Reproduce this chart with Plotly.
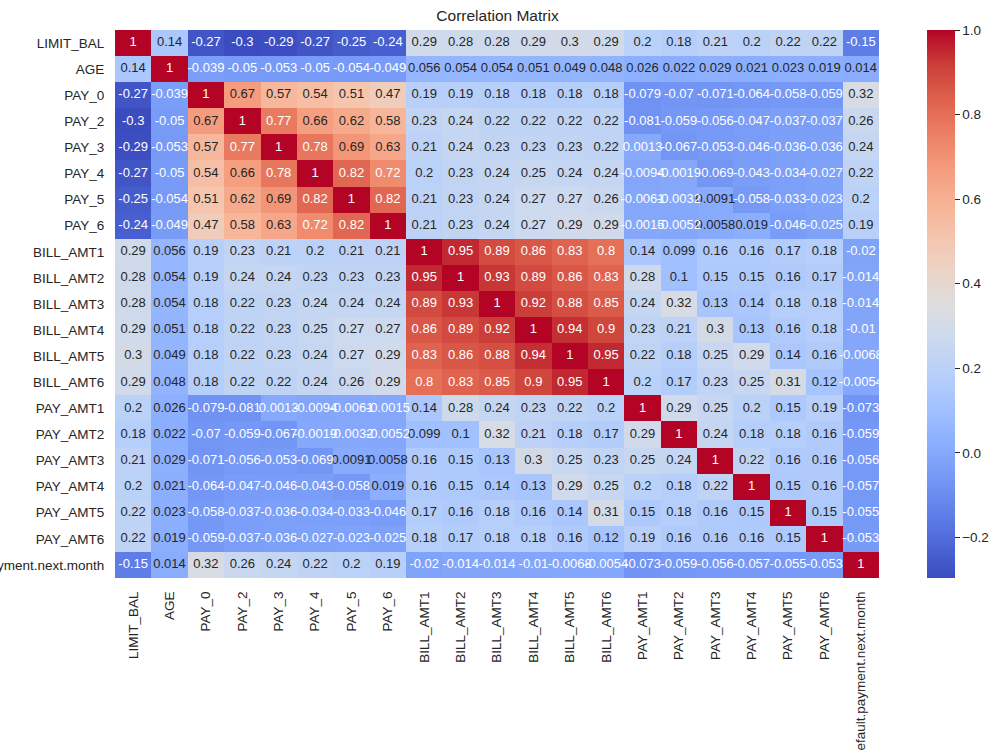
import plotly.graph_objects as go

labels = ["LIMIT_BAL", "AGE", "PAY_0", "PAY_2", "PAY_3", "PAY_4", "PAY_5", "PAY_6",
          "BILL_AMT1", "BILL_AMT2", "BILL_AMT3", "BILL_AMT4", "BILL_AMT5", "BILL_AMT6",
          "PAY_AMT1", "PAY_AMT2", "PAY_AMT3", "PAY_AMT4", "PAY_AMT5", "PAY_AMT6",
          "default.payment.next.month"]

corr = [
    [1, 0.14, -0.27, -0.3, -0.29, -0.27, -0.25, -0.24, 0.29, 0.28, 0.28, 0.29, 0.3, 0.29, 0.2, 0.18, 0.21, 0.2, 0.22, 0.22, -0.15],
    [0.14, 1, -0.039, -0.05, -0.053, -0.05, -0.054, -0.049, 0.056, 0.054, 0.054, 0.051, 0.049, 0.048, 0.026, 0.022, 0.029, 0.021, 0.023, 0.019, 0.014],
    [-0.27, -0.039, 1, 0.67, 0.57, 0.54, 0.51, 0.47, 0.19, 0.19, 0.18, 0.18, 0.18, 0.18, -0.079, -0.07, -0.071, -0.064, -0.058, -0.059, 0.32],
    [-0.3, -0.05, 0.67, 1, 0.77, 0.66, 0.62, 0.58, 0.23, 0.24, 0.22, 0.22, 0.22, 0.22, -0.081, -0.059, -0.056, -0.047, -0.037, -0.037, 0.26],
    [-0.29, -0.053, 0.57, 0.77, 1, 0.78, 0.69, 0.63, 0.21, 0.24, 0.23, 0.23, 0.23, 0.22, 0.0013, -0.067, -0.053, -0.046, -0.036, -0.036, 0.24],
    [-0.27, -0.05, 0.54, 0.66, 0.78, 1, 0.82, 0.72, 0.2, 0.23, 0.24, 0.25, 0.24, 0.24, -0.0094, -0.0019, -0.069, -0.043, -0.034, -0.027, 0.22],
    [-0.25, -0.054, 0.51, 0.62, 0.69, 0.82, 1, 0.82, 0.21, 0.23, 0.24, 0.27, 0.27, 0.26, -0.0061, -0.0032, 0.0091, -0.058, -0.033, -0.023, 0.2],
    [-0.24, -0.049, 0.47, 0.58, 0.63, 0.72, 0.82, 1, 0.21, 0.23, 0.24, 0.27, 0.29, 0.29, -0.0015, -0.0052, 0.0058, 0.019, -0.046, -0.025, 0.19],
    [0.29, 0.056, 0.19, 0.23, 0.21, 0.2, 0.21, 0.21, 1, 0.95, 0.89, 0.86, 0.83, 0.8, 0.14, 0.099, 0.16, 0.16, 0.17, 0.18, -0.02],
    [0.28, 0.054, 0.19, 0.24, 0.24, 0.23, 0.23, 0.23, 0.95, 1, 0.93, 0.89, 0.86, 0.83, 0.28, 0.1, 0.15, 0.15, 0.16, 0.17, -0.014],
    [0.28, 0.054, 0.18, 0.22, 0.23, 0.24, 0.24, 0.24, 0.89, 0.93, 1, 0.92, 0.88, 0.85, 0.24, 0.32, 0.13, 0.14, 0.18, 0.18, -0.014],
    [0.29, 0.051, 0.18, 0.22, 0.23, 0.25, 0.27, 0.27, 0.86, 0.89, 0.92, 1, 0.94, 0.9, 0.23, 0.21, 0.3, 0.13, 0.16, 0.18, -0.01],
    [0.3, 0.049, 0.18, 0.22, 0.23, 0.24, 0.27, 0.29, 0.83, 0.86, 0.88, 0.94, 1, 0.95, 0.22, 0.18, 0.25, 0.29, 0.14, 0.16, -0.0068],
    [0.29, 0.048, 0.18, 0.22, 0.22, 0.24, 0.26, 0.29, 0.8, 0.83, 0.85, 0.9, 0.95, 1, 0.2, 0.17, 0.23, 0.25, 0.31, 0.12, -0.0054],
    [0.2, 0.026, -0.079, -0.081, 0.0013, -0.0094, -0.0061, -0.0015, 0.14, 0.28, 0.24, 0.23, 0.22, 0.2, 1, 0.29, 0.25, 0.2, 0.15, 0.19, -0.073],
    [0.18, 0.022, -0.07, -0.059, -0.067, -0.0019, -0.0032, -0.0052, 0.099, 0.1, 0.32, 0.21, 0.18, 0.17, 0.29, 1, 0.24, 0.18, 0.18, 0.16, -0.059],
    [0.21, 0.029, -0.071, -0.056, -0.053, -0.069, 0.0091, 0.0058, 0.16, 0.15, 0.13, 0.3, 0.25, 0.23, 0.25, 0.24, 1, 0.22, 0.16, 0.16, -0.056],
    [0.2, 0.021, -0.064, -0.047, -0.046, -0.043, -0.058, 0.019, 0.16, 0.15, 0.14, 0.13, 0.29, 0.25, 0.2, 0.18, 0.22, 1, 0.15, 0.16, -0.057],
    [0.22, 0.023, -0.058, -0.037, -0.036, -0.034, -0.033, -0.046, 0.17, 0.16, 0.18, 0.16, 0.14, 0.31, 0.15, 0.18, 0.16, 0.15, 1, 0.15, -0.055],
    [0.22, 0.019, -0.059, -0.037, -0.036, -0.027, -0.023, -0.025, 0.18, 0.17, 0.18, 0.18, 0.16, 0.12, 0.19, 0.16, 0.16, 0.16, 0.15, 1, -0.053],
    [-0.15, 0.014, 0.32, 0.26, 0.24, 0.22, 0.2, 0.19, -0.02, -0.014, -0.014, -0.01, -0.0068, -0.0054, -0.073, -0.059, -0.056, -0.057, -0.055, -0.053, 1],
]

ZMIN, ZMAX = -0.296, 1.0

# matplotlib "coolwarm" (Moreland) sampled stops
cw = [(59, 76, 192), (77, 104, 215), (98, 130, 234), (119, 154, 247), (141, 176, 254),
      (163, 194, 255), (184, 208, 249), (204, 217, 238), (221, 221, 221), (236, 211, 197),
      (245, 196, 173), (247, 177, 148), (244, 154, 123), (236, 127, 99), (222, 96, 77),
      (203, 62, 56), (180, 4, 38)]
n = len(cw) - 1
colorscale = [[i / n, "rgb(%d,%d,%d)" % c] for i, c in enumerate(cw)]


def cmap(v):
    t = (v - ZMIN) / (ZMAX - ZMIN)
    t = min(max(t, 0), 1) * n
    i = min(int(t), n - 1)
    f = t - i
    return [(cw[i][k] + (cw[i + 1][k] - cw[i][k]) * f) / 255 for k in range(3)]


def lum(rgb):
    lin = [c / 12.92 if c <= 0.03928 else ((c + 0.055) / 1.055) ** 2.4 for c in rgb]
    return 0.2126 * lin[0] + 0.7152 * lin[1] + 0.0722 * lin[2]


FONT = "Liberation Sans, Arial"
fig = go.Figure()
fig.add_trace(go.Heatmap(
    z=corr, x=labels, y=labels, zmin=ZMIN, zmax=ZMAX, colorscale=colorscale,
    hoverinfo="skip",
    colorbar=dict(
        x=(927 - 115) / 765, xanchor="left", xref="paper", xpad=0, ypad=0,
        y=0, yanchor="bottom", len=1, lenmode="fraction", thickness=28,
        outlinewidth=0, ticks="outside", ticklen=5, tickwidth=1, tickcolor="#262626",
        tickvals=[-0.2, 0, 0.2, 0.4, 0.6, 0.8, 1.0], tickformat=".1f",
        tickfont=dict(family=FONT, size=13.5, color="#262626"),
    ),
))

for color, is_dark in (("#262626", True), ("white", False)):
    xs, ys, ts = [], [], []
    for r, row in enumerate(corr):
        for c, v in enumerate(row):
            dark = lum(cmap(v)) > 0.408
            if dark == is_dark:
                xs.append(labels[c])
                ys.append(labels[r])
                ts.append(format(v, ".2g"))
    fig.add_trace(go.Scatter(
        x=xs, y=ys, text=ts, mode="text", hoverinfo="skip", showlegend=False,
        textfont=dict(family=FONT, size=13, color=color),
    ))

axis_font = dict(family=FONT, size=13.5, color="#262626")
fig.update_layout(
    width=1000, height=750,
    margin=dict(l=115, r=120, t=30, b=172),
    paper_bgcolor="white", plot_bgcolor="white",
    title=dict(text="Correlation Matrix", x=(115 + 880) / 2 / 1000, xanchor="center",
               y=1 - 16 / 750, yanchor="middle", yref="container",
               font=dict(family=FONT, size=15.5, color="#262626")),
    xaxis=dict(type="category", tickangle=-90, tickfont=axis_font, showgrid=False,
               zeroline=False, ticks="outside", ticklen=7, tickcolor="rgba(0,0,0,0)",
               automargin=False, range=[-0.5, 20.5], fixedrange=True),
    yaxis=dict(type="category", autorange=False, range=[20.5, -0.5], tickfont=axis_font,
               showgrid=False, zeroline=False, ticks="outside", ticklen=7,
               tickcolor="rgba(0,0,0,0)", automargin=False, fixedrange=True),
    showlegend=False,
)

fig.write_html("out.html")
